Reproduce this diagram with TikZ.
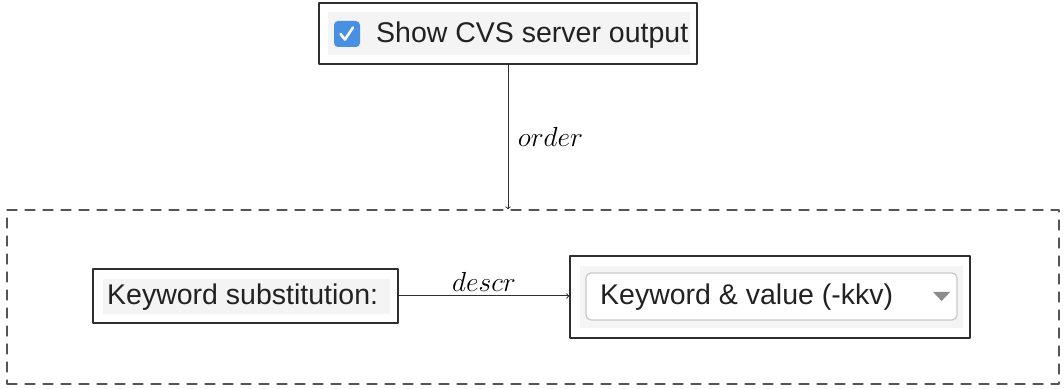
\RequirePackage{fix-cm}
\documentclass[tikz,border=0pt]{standalone}
\usepackage{fontspec}
\usepackage{tikz}
\usetikzlibrary{positioning}
\newfontfamily\uifont{Liberation Sans}
\definecolor{framecolor}{HTML}{2E2E2E}
\definecolor{dashcolor}{HTML}{555555}
\definecolor{panelcolor}{HTML}{F4F4F4}
\definecolor{checkblue}{HTML}{4A90E2}
\definecolor{dropborder}{HTML}{C8C8C8}
\definecolor{uitextcolor}{HTML}{222222}

\begin{document}
\begin{tikzpicture}[x=1pt,y=1pt,line cap=round,line join=round,
  frame/.style={draw=framecolor,line width=1.4pt,inner sep=0pt},
  panel/.style={fill=panelcolor,inner sep=0pt},
  uitext/.style={font=\uifont\fontsize{28.5}{33}\selectfont,text=uitextcolor,inner sep=0pt},
  lbl/.style={font=\fontsize{27.5}{32}\selectfont}]
  \useasboundingbox (0,0) rectangle (1064,388);
  % dashed group
  \node[draw=dashcolor,dash pattern=on 10pt off 8pt,line width=1.3pt,
        minimum width=1052,minimum height=174,inner sep=0pt] (group) at (533,91) {};
  % checkbox widget
  \node[panel,minimum width=362,minimum height=43] (cvspanel) at (509,354.5) {};
  \node[fill=checkblue,rounded corners=4pt,minimum size=26,inner sep=0pt] (cvscheck) at (347,354) {};
  \draw[white,line width=2.6pt] ([shift={(-6.5,0)}]cvscheck.center) -- ++(4.5,-5.5) -- ++(8,12);
  \node[uitext,anchor=west] (cvstext) at (376,353) {Show CVS server output};
  \node[frame,minimum width=378,minimum height=61] (cvsbox) at (508,354.5) {};
  % label widget
  \node[panel,minimum width=287,minimum height=35] (kwpanel) at (246.5,91.5) {};
  \node[uitext,anchor=west] (kwtext) at (107,91) {Keyword substitution:};
  \node[frame,minimum width=305,minimum height=54] (kwbox) at (245.5,92) {};
  % combo widget
  \node[panel,minimum width=383,minimum height=62] (modepanel) at (771.5,91) {};
  \node[draw=dropborder,fill=white,line width=1.2pt,rounded corners=5pt,
        minimum width=371,minimum height=47,inner sep=0pt] (modedrop) at (771.5,91.5) {};
  \node[uitext,anchor=west] (modetext) at (600,91) {Keyword \& value (-kkv)};
  \fill[gray!90] ([shift={(-8.5,4.5)}]modedrop.east) ++(-16,0) coordinate (tri) -- ++(17,0) -- ++(-8.5,-9) -- cycle;
  \node[frame,minimum width=400,minimum height=82] (modebox) at (770,91) {};
  % connectors
  \draw[->,line width=1pt,draw=framecolor] (cvsbox.south) -- (cvsbox.south |- group.north)
    node[lbl,midway,right=6pt] {$order$};
  \draw[->,line width=1pt,draw=framecolor] (kwbox.east) -- (kwbox.east -| modebox.west)
    node[lbl,midway,above=1pt] {$descr$};
\end{tikzpicture}
\end{document}
